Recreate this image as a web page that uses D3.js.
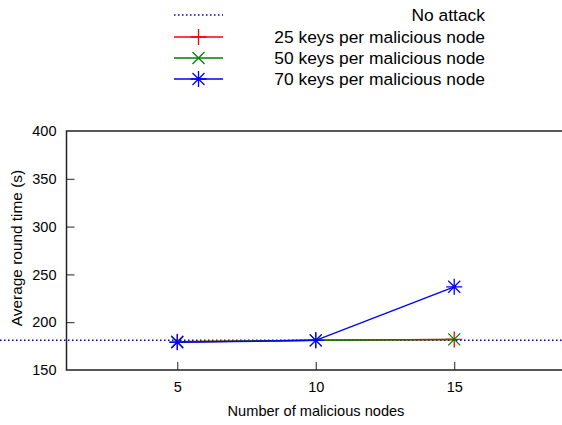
<!DOCTYPE html>
<html>
<head>
<meta charset="utf-8">
<script src="https://cdn.jsdelivr.net/npm/d3@7"></script>
<style>
  html, body { margin: 0; padding: 0; background: #fff; }
  svg { display: block; font-family: "Liberation Sans", Arial, sans-serif; }
</style>
</head>
<body>
<svg id="chart" width="562" height="425"></svg>
<script>
const xValues = [5, 10, 15];
const noAttack = 181;
const keys25 = [179.5, 181, 182];
const keys50 = [179.5, 181, 182];
const keys70 = [179, 181, 237];
const yTicks = [150, 200, 250, 300, 350, 400];
const xTicks = [5, 10, 15];
const seriesNames = ["25 keys per malicious node", "50 keys per malicious node", "70 keys per malicious node"];
const seriesColors = ["#ff0000", "#008000", "#0000ff"];
const seriesMarkers = ["plus", "cross", "star"];
const noAttackLabel = "No attack";
const xTitle = "Number of malicious nodes";
const yTitle = "Average round time (s)";

(function () {
const svg = d3.select("#chart");
const W = 562, H = 425;
const mLeft = 66.5, mRight = 565, mTop = 131, mBottom = 370;

const x = d3.scaleLinear().domain([1, 19]).range([mLeft, mRight]);
const y = d3.scaleLinear().domain([150, 400]).range([mBottom, mTop]);

function marker(g, type, cx, cy, color, s) {
  const p = d3.path();
  if (type === "plus" || type === "star") {
    p.moveTo(cx - s, cy); p.lineTo(cx + s, cy);
    p.moveTo(cx, cy - s); p.lineTo(cx, cy + s);
  }
  if (type === "cross" || type === "star") {
    const d = s * 0.75;
    p.moveTo(cx - d, cy - d); p.lineTo(cx + d, cy + d);
    p.moveTo(cx - d, cy + d); p.lineTo(cx + d, cy - d);
  }
  g.append("path").attr("d", p.toString()).attr("stroke", color)
    .attr("stroke-width", 1.3).attr("fill", "none");
}

// No attack baseline across full width
svg.append("line")
  .attr("x1", 0).attr("x2", W)
  .attr("y1", y(noAttack)).attr("y2", y(noAttack))
  .attr("stroke", "#0000b4").attr("stroke-width", 1.5)
  .attr("stroke-dasharray", "1.5,2.5");

// Axes
const yAxis = d3.axisLeft(y).tickValues(yTicks).tickSize(-8).tickPadding(10).tickFormat(d3.format("d"));
const xAxis = d3.axisBottom(x).tickValues(xTicks).tickSize(-8).tickPadding(12).tickFormat(d3.format("d"));

const gy = svg.append("g").attr("transform", `translate(${mLeft},0)`).call(yAxis);
const gx = svg.append("g").attr("transform", `translate(0,${mBottom})`).call(xAxis);
[gx, gy].forEach(g => {
  g.select(".domain").remove();
  g.selectAll(".tick line").attr("stroke", "#222").attr("stroke-width", 1);
  g.selectAll(".tick text").attr("fill", "#000").style("font-size", "14.5px")
    .style("font-family", "'Liberation Sans', Arial, sans-serif");
});
gy.selectAll(".tick").filter(d => d === 150 || d === 400).select("line").remove();

// Frame: left, bottom, top
svg.append("path")
  .attr("d", `M${W},${mTop}H${mLeft}V${mBottom}H${W}`)
  .attr("fill", "none").attr("stroke", "#222").attr("stroke-width", 1.5);

// Series
const allSeries = [keys25, keys50, keys70];
const line = d3.line().x((d, i) => x(xValues[i])).y(d => y(d));
allSeries.forEach((vals, si) => {
  const g = svg.append("g");
  g.append("path").datum(vals).attr("d", line)
    .attr("fill", "none").attr("stroke", seriesColors[si]).attr("stroke-width", 1.5);
  vals.forEach((v, i) => marker(g, seriesMarkers[si], x(xValues[i]), y(v), seriesColors[si], 8));
});

// Axis titles
svg.append("text").attr("x", 316).attr("y", 416).attr("text-anchor", "middle")
  .style("font-size", "14.6px").text(xTitle);
svg.append("text").attr("transform", `translate(22,248) rotate(-90)`)
  .attr("text-anchor", "middle").style("font-size", "15.4px").text(yTitle);

// Legend
const lgX1 = 174, lgX2 = 223, lgText = 485;
const rows = [15, 37, 58, 79];
const lg = svg.append("g");
lg.append("line").attr("x1", lgX1).attr("x2", lgX2).attr("y1", rows[0]).attr("y2", rows[0])
  .attr("stroke", "#0000b4").attr("stroke-width", 1.5).attr("stroke-dasharray", "1.5,2.5");
lg.append("text").attr("x", lgText).attr("y", rows[0]).attr("dy", "0.36em")
  .attr("text-anchor", "end").style("font-size", "17.4px").text(noAttackLabel);
seriesNames.forEach((name, si) => {
  const ry = rows[si + 1];
  lg.append("line").attr("x1", lgX1).attr("x2", lgX2).attr("y1", ry).attr("y2", ry)
    .attr("stroke", seriesColors[si]).attr("stroke-width", 1.5);
  marker(lg, seriesMarkers[si], (lgX1 + lgX2) / 2, ry, seriesColors[si], 8);
  lg.append("text").attr("x", lgText).attr("y", ry).attr("dy", "0.36em")
    .attr("text-anchor", "end").style("font-size", "17.4px").text(name);
});
})();
</script>
</body>
</html>
